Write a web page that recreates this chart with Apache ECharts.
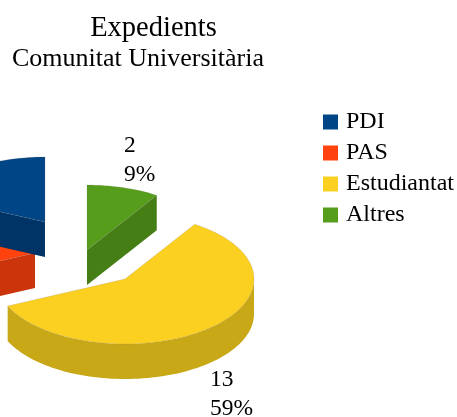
<!DOCTYPE html>
<html>
<head>
<meta charset="utf-8">
<style>
  html, body { margin: 0; padding: 0; background: #fff; }
  #chart { width: 457px; height: 417px; }
</style>
<script src="https://cdn.jsdelivr.net/npm/echarts@6/dist/echarts.min.js"></script>
</head>
<body>
<div id="chart"></div>
<script>
const categories = ['PDI', 'PAS', 'Estudiantat', 'Altres']
const values = [4, 3, 13, 2]

const font = 'Liberation Serif'
const colors = ['#004586', '#ff420e', '#fcd020', '#579d1c']
const sideColors = ['#003466', '#cc350b', '#c9a818', '#467e16']
// exploded position of each slice tip, label anchor, draw order
const tips = [[45, 222], [35, 253], [125, 279], [87, 250]]
const labelPos = [null, null, [210, 394], [124, 160]]
const order = [3, 2, 4, 5]
const rx = 129
const ry = 65
const depth = 35

const total = values.reduce((a, b) => a + b, 0)
const rad = d => d * Math.PI / 180

// values run counter-clockwise from 12 o'clock; angles here are clockwise degrees
function sliceAngles(i) {
  const before = values.slice(0, i).reduce((a, b) => a + b, 0)
  const end = 360 - before / total * 360
  return [end - values[i] / total * 360, end]
}

function rim(tip, deg, dy) {
  return [tip[0] + rx * Math.sin(rad(deg)), tip[1] - ry * Math.cos(rad(deg)) + (dy || 0)]
}

function arcPoints(tip, from, to, dy) {
  const pts = []
  for (let d = from; d < to; d += 2) pts.push(rim(tip, d, dy))
  pts.push(rim(tip, to, dy))
  return pts
}

function renderSlice(i) {
  const tip = tips[i]
  const [a, b] = sliceAngles(i)
  const side = { fill: sideColors[i] }
  const children = []

  // radial walls, only when they face the viewer
  const wall = d => ({
    type: 'polygon',
    shape: { points: [tip, rim(tip, d), rim(tip, d, depth), [tip[0], tip[1] + depth]] },
    style: side
  })
  if (Math.sin(rad(a)) < -0.001) children.push(wall(a))
  if (Math.sin(rad(b)) > 0.001) children.push(wall(b))

  // outer wall, front half of the ellipse only
  const from = Math.max(a, 90)
  const to = Math.min(b, 270)
  if (from < to) {
    children.push({
      type: 'polygon',
      shape: { points: arcPoints(tip, from, to).concat(arcPoints(tip, from, to, depth).reverse()) },
      style: side
    })
  }

  // top face
  children.push({
    type: 'polygon',
    shape: { points: [tip].concat(arcPoints(tip, a, b)) },
    style: { fill: colors[i], stroke: 'rgba(110,110,110,0.35)', lineWidth: 0.5 }
  })

  if (labelPos[i]) {
    children.push({
      type: 'text',
      x: labelPos[i][0],
      y: labelPos[i][1],
      style: {
        text: values[i] + '\n' + Math.round(values[i] / total * 100) + '%',
        fontFamily: font,
        fontSize: 23.5,
        lineHeight: 29,
        fill: '#000',
        align: 'left',
        verticalAlign: 'middle'
      }
    })
  }
  return { type: 'group', children }
}

const chart = echarts.init(document.getElementById('chart'), null, { renderer: 'canvas' })

chart.setOption({
  animation: false,
  backgroundColor: '#ffffff',
  title: [
    {
      text: 'Expedients',
      left: 148.5,
      top: 9,
      textAlign: 'center',
      textStyle: { fontFamily: font, fontWeight: 'normal', fontSize: 28.5, color: '#000' }
    },
    {
      text: 'Comunitat Universitària',
      left: 133,
      top: 41,
      textAlign: 'center',
      textStyle: { fontFamily: font, fontWeight: 'normal', fontSize: 26, color: '#000' }
    }
  ],
  legend: {
    orient: 'vertical',
    left: 323,
    top: 110,
    padding: 0,
    itemWidth: 15,
    itemHeight: 15,
    itemGap: 7,
    icon: 'rect',
    data: categories,
    textStyle: { fontFamily: font, fontSize: 24, color: '#000', padding: [0, 0, 0, 3] }
  },
  series: categories.map((name, i) => ({
    type: 'custom',
    name,
    coordinateSystem: 'none',
    silent: true,
    z: order[i],
    itemStyle: { color: colors[i] },
    data: [values[i]],
    renderItem: () => renderSlice(i)
  }))
})
</script>
</body>
</html>
